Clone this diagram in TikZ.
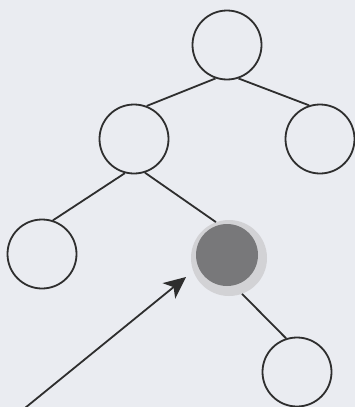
\documentclass[tikz,border=0pt]{standalone}
\usetikzlibrary{arrows.meta}
\definecolor{paper}{HTML}{EAECF1}
\definecolor{ink}{HTML}{2E2E2E}
\definecolor{halo}{HTML}{D2D2D5}
\definecolor{dark}{HTML}{78787A}
\begin{document}
\begin{tikzpicture}[x=1pt,y=-1pt,
  treenode/.style={circle,draw=ink,line width=1.8pt,minimum size=69pt,inner sep=0pt},
  edge/.style={draw=ink,line width=1.8pt},
  pointer/.style={draw=ink,line width=1.8pt,-{Stealth[length=22pt,width=20pt,inset=6pt]}}]
\fill[paper] (0,0) rectangle (355,407);
\useasboundingbox (0,0) rectangle (355,407);
\node[treenode] (root) at (227,45) {};
\node[treenode] (L) at (134,139) {};
\node[treenode] (R) at (320,139) {};
\node[treenode] (LL) at (42,254) {};
\node[circle,fill=halo,minimum size=76pt,inner sep=0pt] (G) at (229,258) {};
\fill[dark] (227,255) circle (31);
\node[treenode] (BR) at (297,372) {};
\draw[edge] (root.251) -- (L.69);
\draw[edge] (root.289) -- (R.108);
\draw[edge] (L.255) -- (LL.72);
\draw[edge] (L.288) -- (G.110);
\draw[edge] (G.290) -- (BR.108);
\coordinate (start) at (25,408);
\coordinate (tip) at (186,277);
\draw[pointer] (start) -- (tip);
\end{tikzpicture}
\end{document}
